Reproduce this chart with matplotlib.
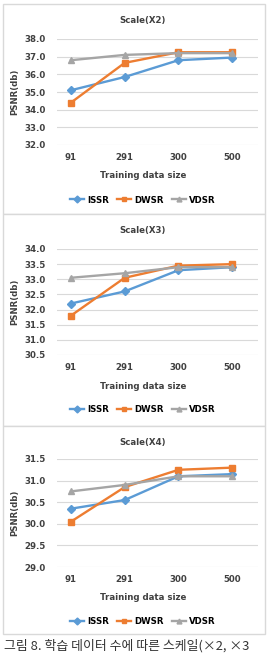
import matplotlib
matplotlib.use("Agg")
import matplotlib.pyplot as plt
from matplotlib.patches import Rectangle
from matplotlib.lines import Line2D

plt.rcParams['font.family'] = ['DejaVu Sans']

sizes = ["91", "291", "300", "500"]
series = ["ISSR", "DWSR", "VDSR"]

x2_issr = [35.1, 35.85, 36.8, 36.95]
x2_dwsr = [34.4, 36.65, 37.25, 37.25]
x2_vdsr = [36.8, 37.1, 37.2, 37.2]

x3_issr = [32.2, 32.6, 33.3, 33.4]
x3_dwsr = [31.8, 33.05, 33.45, 33.5]
x3_vdsr = [33.05, 33.2, 33.4, 33.4]

x4_issr = [30.35, 30.55, 31.1, 31.15]
x4_dwsr = [30.05, 30.85, 31.25, 31.3]
x4_vdsr = [30.75, 30.9, 31.1, 31.1]

x2_ticks = [32.0, 33.0, 34.0, 35.0, 36.0, 37.0, 38.0]
x3_ticks = [30.5, 31.0, 31.5, 32.0, 32.5, 33.0, 33.5, 34.0]
x4_ticks = [29.0, 29.5, 30.0, 30.5, 31.0, 31.5]

colors = {"ISSR": "#5B9BD5", "DWSR": "#ED7D31", "VDSR": "#A5A5A5"}
markers = {"ISSR": "D", "DWSR": "s", "VDSR": "^"}

W, H = 267, 655
fig = plt.figure(figsize=(W / 100, H / 100), dpi=100)
fig.patch.set_facecolor("white")


def px_axes(left, top, right, bottom, **kw):
    return fig.add_axes([left / W, 1 - bottom / H, (right - left) / W, (bottom - top) / H], **kw)


panels = [
    # title, data, ticks, panel box (top, bottom), plot area (top, bottom), text rows
    ("Scale(X2)", [x2_issr, x2_dwsr, x2_vdsr], x2_ticks, (4, 214), (39, 145), (20, 176, 200)),
    ("Scale(X3)", [x3_issr, x3_dwsr, x3_vdsr], x3_ticks, (214, 426), (249, 355), (231, 386, 410)),
    ("Scale(X4)", [x4_issr, x4_dwsr, x4_vdsr], x4_ticks, (426, 634), (459, 567), (443, 597, 622)),
]

fs = 6.2
for title, data, ticks, box, area, rows in panels:
    fig.patches.append(Rectangle((3 / W, 1 - box[1] / H), (265 - 3) / W, (box[1] - box[0]) / H,
                                 transform=fig.transFigure, facecolor="white",
                                 edgecolor="#d9d9d9", linewidth=1.0, zorder=-5))
    ax = px_axes(57, area[0], 258, area[1])
    ax.set_zorder(2)
    ax.set_facecolor("none")
    xs = range(len(sizes))
    for name, vals in zip(series, data):
        ax.plot(xs, vals, color=colors[name], marker=markers[name], markersize=4.5,
                linewidth=1.7, zorder=3)
    ax.set_ylim(ticks[0], ticks[-1])
    ax.set_yticks(ticks)
    ax.set_yticklabels([f"{t:.1f}" for t in ticks], fontsize=fs, fontweight="bold", color="#404040")
    ax.set_xlim(-0.26, 3.48)
    ax.set_xticks(list(xs))
    ax.set_xticklabels(sizes, fontsize=fs, fontweight="bold", color="#404040")
    ax.tick_params(length=0, pad=6)
    ax.tick_params(axis="y", pad=8)
    ax.grid(axis="y", color="#d9d9d9", linewidth=0.8)
    for s in ax.spines.values():
        s.set_visible(False)
    ax.set_axisbelow(True)

    fig.text(143 / W, 1 - rows[0] / H, title, ha="center", va="center",
             fontsize=fs, fontweight="bold", color="#404040")
    fig.text(143 / W, 1 - rows[1] / H, "Training data size", ha="center", va="center",
             fontsize=fs, fontweight="bold", color="#404040")
    fig.text(15 / W, 1 - (area[0] + area[1]) / 2 / H, "PSNR(db)", ha="center", va="center",
             rotation=90, fontsize=fs, fontweight="bold", color="#404040")
    handles = [Line2D([], [], color=colors[n], marker=markers[n], markersize=3.5, linewidth=1.7)
               for n in series]
    fig.legend(handles, series, loc="center", bbox_to_anchor=(143 / W, 1 - rows[2] / H),
               ncol=3, frameon=False, handlelength=1.6, columnspacing=0.9,
               handletextpad=0.4, prop={"weight": "bold", "size": fs})

fig.text(4 / W, 1 - 646 / H, "그림 8. 학습 데이터 수에 따른 스케일(×2, ×3",
         ha="left", va="center", fontsize=9.3, color="#333333",
         family=["Noto Sans CJK KR", "DejaVu Sans"])

fig.savefig("out.png", dpi=100)
